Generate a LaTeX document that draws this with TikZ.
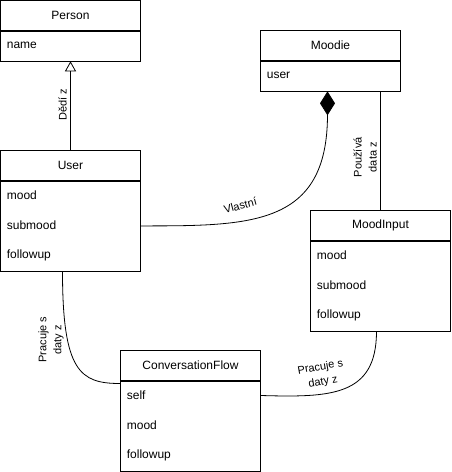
\documentclass[tikz,border=0pt]{standalone}
\usepackage{fontspec}
\setmainfont{Liberation Sans}
\usetikzlibrary{arrows.meta}

\begin{document}
\begin{tikzpicture}[x=1pt, y=-1pt, line width=0.8pt]
\tikzset{head/.style = {draw, minimum width=140, minimum height=30, font=\fontsize{12}{14}\selectfont}}
\tikzset{body/.style = {draw, minimum width=140, anchor=north}}
\tikzset{attr/.style = {anchor=west, inner sep=0, font=\fontsize{12}{14}\selectfont}}
\tikzset{lbl/.style = {align=center, font=\fontsize{11}{15}\selectfont}}
\tikzset{inherit/.style = {-{Triangle[open, length=10pt, width=11pt]}}}
\tikzset{compose/.style = {{Diamond[length=24pt, width=15pt]}-}}
\useasboundingbox (-0.5,-0.5) rectangle (450.5,471.5);
% classes
\node[head](person) at (70, 15) {Person};
\node[body, minimum height=30](personbody) at (70, 30) {};
\node[attr](personname) at (6, 45) {name};
\node[head](user) at (70, 165) {User};
\node[body, minimum height=90](userbody) at (70, 180) {};
\node[attr](usermood) at (6, 195) {mood};
\node[attr](usersubmood) at (6, 225) {submood};
\node[attr](userfollowup) at (6, 255) {followup};
\node[head](moodie) at (330, 45) {Moodie};
\node[body, minimum height=30](moodiebody) at (330, 60) {};
\node[attr](moodieuser) at (266, 75) {user};
\node[head](moodinput) at (380, 225) {MoodInput};
\node[body, minimum height=90](moodinputbody) at (380, 240) {};
\node[attr](inputmood) at (316, 255) {mood};
\node[attr](inputsubmood) at (316, 285) {submood};
\node[attr](inputfollowup) at (316, 315) {followup};
\node[head](cf) at (190, 365) {ConversationFlow};
\node[body, minimum height=90](cfbody) at (190, 380) {};
\node[attr](cfself) at (126, 395) {self};
\node[attr](cfmood) at (126, 425) {mood};
\node[attr](cffollowup) at (126, 455) {followup};
% relations
\draw[inherit] (user.north) -- (personbody.south) node[lbl, midway, above=1pt, rotate=90] {Dědí z};
\draw[compose] ([xshift=-3pt]moodiebody.south) .. controls +(0,135) and +(110,0) .. (userbody.east) node[lbl, pos=0.65, above=7pt, rotate=15] {Vlastní};
\draw (moodinput.north) -- (moodinput.north |- moodiebody.south) node[lbl, pos=0.42, above=3pt, rotate=90] {Používá\\data z};
\draw ([xshift=-8pt]userbody.south) .. controls +(0,100) and +(-40,0) .. ([yshift=-3pt]cfbody.north west) node[lbl, pos=0.3, above, rotate=90] {Pracuje s\\daty z};
\draw ([xshift=-4pt]moodinputbody.south) .. controls +(0,65) and +(70,2) .. (cfself -| cfbody.east) node[lbl, pos=0.65, above=3pt, rotate=10] {Pracuje s\\daty z};
\end{tikzpicture}
\end{document}
